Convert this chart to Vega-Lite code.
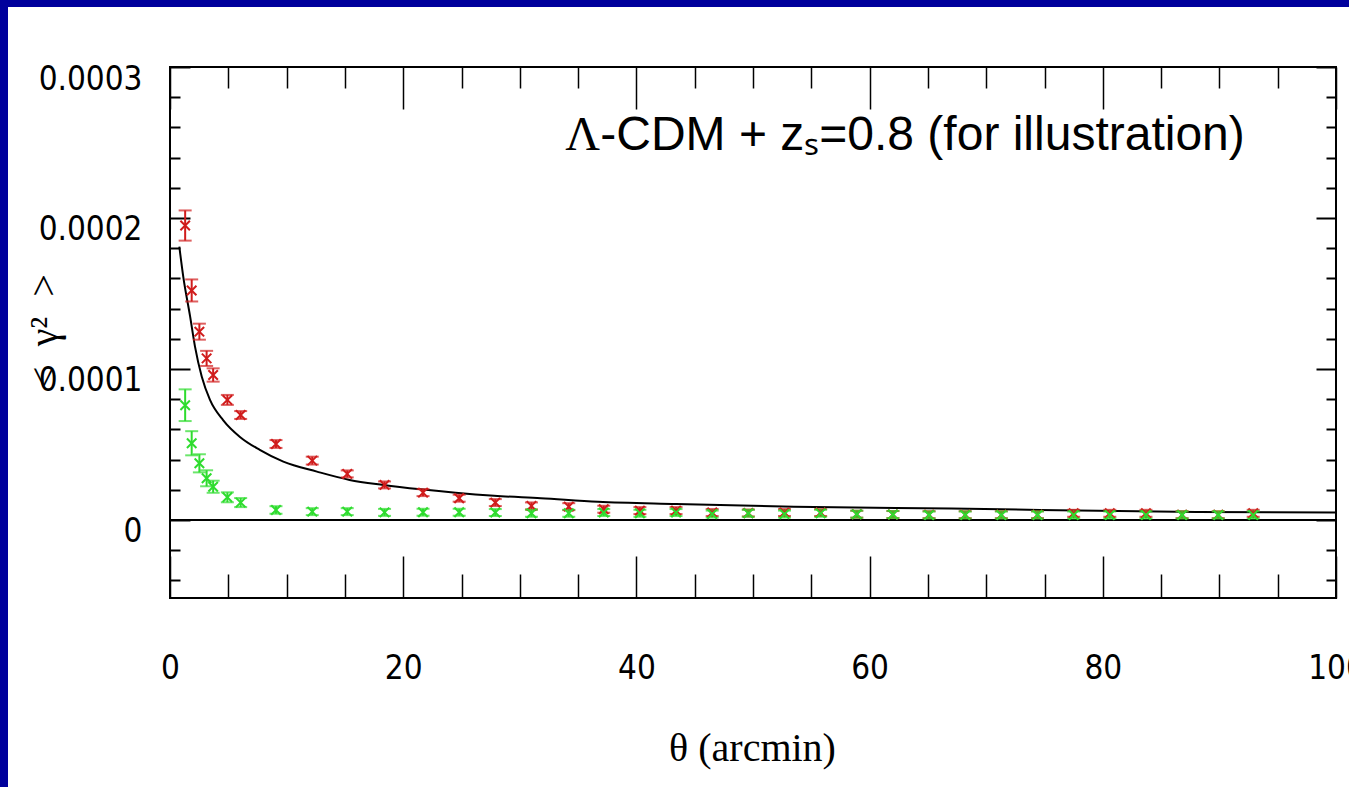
{
  "$schema": "https://vega.github.io/schema/vega-lite/v6.json",
  "width": 1341,
  "height": 780,
  "autosize": {"type": "none"},
  "padding": {"left": 8, "top": 7, "right": 0, "bottom": 0},
  "background": "#00009c",
  "config": {"view": {"fill": "white", "stroke": null}, "axis": {"grid": false}},
  "datasets": {
    "points": [
      {"series": "red", "theta": 1.3, "value": 1.95e-4, "lo": 1.85e-4, "hi": 2.05e-4},
      {"series": "red", "theta": 1.86, "value": 1.52e-4, "lo": 1.447e-4, "hi": 1.593e-4},
      {"series": "red", "theta": 2.52, "value": 1.247e-4, "lo": 1.194e-4, "hi": 1.3e-4},
      {"series": "red", "theta": 3.14, "value": 1.07e-4, "lo": 1.02e-4, "hi": 1.12e-4},
      {"series": "red", "theta": 3.7, "value": 9.6e-5, "lo": 9.16e-5, "hi": 1.004e-4},
      {"series": "red", "theta": 4.92, "value": 7.95e-5, "lo": 7.62e-5, "hi": 8.28e-5},
      {"series": "red", "theta": 6.06, "value": 6.95e-5, "lo": 6.69e-5, "hi": 7.21e-5},
      {"series": "red", "theta": 9.09, "value": 5.03e-5, "lo": 4.77e-5, "hi": 5.29e-5},
      {"series": "red", "theta": 12.2, "value": 3.93e-5, "lo": 3.67e-5, "hi": 4.19e-5},
      {"series": "red", "theta": 15.2, "value": 3.05e-5, "lo": 2.82e-5, "hi": 3.28e-5},
      {"series": "red", "theta": 18.4, "value": 2.32e-5, "lo": 2.09e-5, "hi": 2.55e-5},
      {"series": "red", "theta": 21.7, "value": 1.81e-5, "lo": 1.58e-5, "hi": 2.04e-5},
      {"series": "red", "theta": 24.8, "value": 1.44e-5, "lo": 1.21e-5, "hi": 1.67e-5},
      {"series": "red", "theta": 27.9, "value": 1.15e-5, "lo": 9.2e-6, "hi": 1.38e-5},
      {"series": "red", "theta": 31.0, "value": 9.3e-6, "lo": 7.0e-6, "hi": 1.16e-5},
      {"series": "red", "theta": 34.2, "value": 8.8e-6, "lo": 6.5e-6, "hi": 1.11e-5},
      {"series": "red", "theta": 37.2, "value": 7.1e-6, "lo": 4.8e-6, "hi": 9.4e-6},
      {"series": "red", "theta": 40.3, "value": 6.2e-6, "lo": 3.9e-6, "hi": 8.5e-6},
      {"series": "red", "theta": 43.4, "value": 6.2e-6, "lo": 3.9e-6, "hi": 8.5e-6},
      {"series": "red", "theta": 46.5, "value": 4.9e-6, "lo": 2.6e-6, "hi": 7.2e-6},
      {"series": "red", "theta": 49.6, "value": 4.6e-6, "lo": 2.3e-6, "hi": 6.9e-6},
      {"series": "red", "theta": 52.7, "value": 4.9e-6, "lo": 2.6e-6, "hi": 7.2e-6},
      {"series": "red", "theta": 55.8, "value": 4.9e-6, "lo": 2.6e-6, "hi": 7.2e-6},
      {"series": "red", "theta": 58.9, "value": 3.8e-6, "lo": 1.5e-6, "hi": 6.1e-6},
      {"series": "red", "theta": 62.0, "value": 3.6e-6, "lo": 1.3e-6, "hi": 5.9e-6},
      {"series": "red", "theta": 65.1, "value": 3.5e-6, "lo": 1.2e-6, "hi": 5.8e-6},
      {"series": "red", "theta": 68.2, "value": 3.5e-6, "lo": 1.2e-6, "hi": 5.8e-6},
      {"series": "red", "theta": 71.3, "value": 3.5e-6, "lo": 1.2e-6, "hi": 5.8e-6},
      {"series": "red", "theta": 74.4, "value": 3.5e-6, "lo": 1.2e-6, "hi": 5.8e-6},
      {"series": "red", "theta": 77.5, "value": 4.4e-6, "lo": 2.1e-6, "hi": 6.7e-6},
      {"series": "red", "theta": 80.6, "value": 4.4e-6, "lo": 2.1e-6, "hi": 6.7e-6},
      {"series": "red", "theta": 83.7, "value": 4.4e-6, "lo": 2.1e-6, "hi": 6.7e-6},
      {"series": "red", "theta": 86.8, "value": 3.5e-6, "lo": 1.2e-6, "hi": 5.8e-6},
      {"series": "red", "theta": 89.9, "value": 3.5e-6, "lo": 1.2e-6, "hi": 5.8e-6},
      {"series": "red", "theta": 92.9, "value": 4.4e-6, "lo": 2.1e-6, "hi": 6.7e-6},
      {"series": "green", "theta": 1.3, "value": 7.6e-5, "lo": 6.55e-5, "hi": 8.65e-5},
      {"series": "green", "theta": 1.86, "value": 5.08e-5, "lo": 4.28e-5, "hi": 5.88e-5},
      {"series": "green", "theta": 2.52, "value": 3.75e-5, "lo": 3.15e-5, "hi": 4.35e-5},
      {"series": "green", "theta": 3.14, "value": 2.76e-5, "lo": 2.23e-5, "hi": 3.29e-5},
      {"series": "green", "theta": 3.7, "value": 2.2e-5, "lo": 1.8e-5, "hi": 2.6e-5},
      {"series": "green", "theta": 4.92, "value": 1.5e-5, "lo": 1.17e-5, "hi": 1.83e-5},
      {"series": "green", "theta": 6.06, "value": 1.15e-5, "lo": 8.5e-6, "hi": 1.45e-5},
      {"series": "green", "theta": 9.09, "value": 6.6e-6, "lo": 4.1e-6, "hi": 9.1e-6},
      {"series": "green", "theta": 12.2, "value": 5.5e-6, "lo": 3.2e-6, "hi": 7.8e-6},
      {"series": "green", "theta": 15.2, "value": 5.5e-6, "lo": 3.2e-6, "hi": 7.8e-6},
      {"series": "green", "theta": 18.4, "value": 5.0e-6, "lo": 2.7e-6, "hi": 7.3e-6},
      {"series": "green", "theta": 21.7, "value": 5.1e-6, "lo": 2.8e-6, "hi": 7.4e-6},
      {"series": "green", "theta": 24.8, "value": 5.1e-6, "lo": 2.8e-6, "hi": 7.4e-6},
      {"series": "green", "theta": 27.9, "value": 4.9e-6, "lo": 2.6e-6, "hi": 7.2e-6},
      {"series": "green", "theta": 31.0, "value": 4.4e-6, "lo": 2.1e-6, "hi": 6.7e-6},
      {"series": "green", "theta": 34.2, "value": 4.4e-6, "lo": 2.1e-6, "hi": 6.7e-6},
      {"series": "green", "theta": 37.2, "value": 4.9e-6, "lo": 2.6e-6, "hi": 7.2e-6},
      {"series": "green", "theta": 40.3, "value": 4.4e-6, "lo": 2.1e-6, "hi": 6.7e-6},
      {"series": "green", "theta": 43.4, "value": 4.9e-6, "lo": 2.6e-6, "hi": 7.2e-6},
      {"series": "green", "theta": 46.5, "value": 3.9e-6, "lo": 1.6e-6, "hi": 6.2e-6},
      {"series": "green", "theta": 49.6, "value": 4.4e-6, "lo": 2.1e-6, "hi": 6.7e-6},
      {"series": "green", "theta": 52.7, "value": 3.9e-6, "lo": 1.6e-6, "hi": 6.2e-6},
      {"series": "green", "theta": 55.8, "value": 4.4e-6, "lo": 2.1e-6, "hi": 6.7e-6},
      {"series": "green", "theta": 58.9, "value": 3.8e-6, "lo": 1.5e-6, "hi": 6.1e-6},
      {"series": "green", "theta": 62.0, "value": 3.6e-6, "lo": 1.3e-6, "hi": 5.9e-6},
      {"series": "green", "theta": 65.1, "value": 3.3e-6, "lo": 1.0e-6, "hi": 5.6e-6},
      {"series": "green", "theta": 68.2, "value": 3.3e-6, "lo": 1.0e-6, "hi": 5.6e-6},
      {"series": "green", "theta": 71.3, "value": 3.3e-6, "lo": 1.0e-6, "hi": 5.6e-6},
      {"series": "green", "theta": 74.4, "value": 3.3e-6, "lo": 1.0e-6, "hi": 5.6e-6},
      {"series": "green", "theta": 77.5, "value": 3.3e-6, "lo": 1.0e-6, "hi": 5.6e-6},
      {"series": "green", "theta": 80.6, "value": 3.3e-6, "lo": 1.0e-6, "hi": 5.6e-6},
      {"series": "green", "theta": 83.7, "value": 3.3e-6, "lo": 1.0e-6, "hi": 5.6e-6},
      {"series": "green", "theta": 86.8, "value": 3.3e-6, "lo": 1.0e-6, "hi": 5.6e-6},
      {"series": "green", "theta": 89.9, "value": 3.3e-6, "lo": 1.0e-6, "hi": 5.6e-6},
      {"series": "green", "theta": 92.9, "value": 3.3e-6, "lo": 1.0e-6, "hi": 5.6e-6}
    ],
    "theory": [
      {"theta": 0.8, "value": 1.81e-4},
      {"theta": 1.14, "value": 1.61e-4},
      {"theta": 1.72, "value": 1.35e-4},
      {"theta": 2.14, "value": 1.15e-4},
      {"theta": 2.72, "value": 9.5e-5},
      {"theta": 3.43, "value": 7.95e-5},
      {"theta": 4.57, "value": 6.6e-5},
      {"theta": 6.0, "value": 5.5e-5},
      {"theta": 7.7, "value": 4.64e-5},
      {"theta": 9.72, "value": 3.86e-5},
      {"theta": 12.6, "value": 3.2e-5},
      {"theta": 15.4, "value": 2.65e-5},
      {"theta": 18.3, "value": 2.32e-5},
      {"theta": 21.5, "value": 2.03e-5},
      {"theta": 24.5, "value": 1.8e-5},
      {"theta": 27.8, "value": 1.6e-5},
      {"theta": 31.8, "value": 1.44e-5},
      {"theta": 36.7, "value": 1.21e-5},
      {"theta": 43.4, "value": 1.06e-5},
      {"theta": 53.5, "value": 8.8e-6},
      {"theta": 67.0, "value": 7.5e-6},
      {"theta": 88.0, "value": 5.3e-6},
      {"theta": 100.0, "value": 5.0e-6}
    ]
  },
  "layer": [
    {
      "data": {"values": [{"frame": "plot"}]},
      "mark": {"type": "rect", "fillOpacity": 0, "stroke": "black", "strokeWidth": 2},
      "encoding": {
        "x": {
          "datum": 0, "type": "quantitative",
          "scale": {"domain": [0, 100], "range": [162, 1328], "nice": false, "zero": false},
          "axis": {
            "orient": "bottom", "offset": -189, "values": [0, 20, 40, 60, 80, 100],
            "ticks": false, "domain": false, "labelPadding": 54, "labelBaseline": "top",
            "labelFont": "DejaVu Sans Condensed, Liberation Sans, sans-serif", "labelFontSize": 33, "labelColor": "black",
            "labelFlush": false, "labelOverlap": false, "labelBound": false,
            "title": "θ (arcmin)", "titleFont": "Liberation Serif", "titleFontSize": 40,
            "titleFontWeight": "normal", "titleColor": "black", "titleX": 744, "titleY": 162,
            "titleBaseline": "alphabetic", "titleAlign": "center"
          }
        },
        "x2": {"datum": 100},
        "y": {
          "datum": -0.0000517, "type": "quantitative",
          "scale": {"domain": [-0.0000517, 0.0003], "range": [591, 60], "nice": false, "zero": false},
          "axis": {
            "orient": "left", "offset": -162, "values": [0, 0.0001, 0.0002, 0.0003], "format": "~g",
            "ticks": false, "domain": false, "labelPadding": 28, "labelAlign": "right",
            "labelBaseline": "middle", "labelOffset": 12,
            "labelFont": "DejaVu Sans Condensed, Liberation Sans, sans-serif", "labelFontSize": 33, "labelColor": "black",
            "labelOverlap": false, "labelBound": false,
            "title": "<\u2002γ²\u2002>", "titleFont": "Liberation Serif", "titleFontSize": 40,
            "titleFontWeight": "normal", "titleColor": "black", "titleX": -126, "titleY": 324,
            "titleAngle": 270, "titleBaseline": "middle", "titleAlign": "center"
          }
        },
        "y2": {"datum": 0.0003}
      }
    },
    {
      "data": {"values": [{"line": "zero"}]},
      "mark": {"type": "rule", "stroke": "black", "strokeWidth": 2},
      "encoding": {
        "x": {"datum": 0, "type": "quantitative",
          "axis": {"orient": "bottom", "offset": -231, "values": [0, 20, 40, 60, 80, 100], "tickSize": 42, "tickWidth": 1.5, "tickColor": "black", "labels": false, "domain": false, "title": null}},
        "x2": {"datum": 100},
        "y": {"datum": 0, "type": "quantitative",
          "axis": {"orient": "left", "offset": -182, "values": [0, 0.0001, 0.0002, 0.0003], "tickSize": 20, "tickWidth": 2, "tickColor": "black", "labels": false, "domain": false, "title": null}}
      }
    },
    {
      "data": {"name": "theory"},
      "mark": {"type": "line", "stroke": "black", "strokeWidth": 2, "interpolate": "monotone"},
      "encoding": {
        "x": {"field": "theta", "type": "quantitative",
          "axis": {"orient": "bottom", "offset": -213, "values": [5, 10, 15, 25, 30, 35, 45, 50, 55, 65, 70, 75, 85, 90, 95], "tickSize": 24, "tickWidth": 1.5, "tickColor": "black", "labels": false, "domain": false, "title": null}},
        "y": {"field": "value", "type": "quantitative",
          "axis": {"orient": "left", "offset": -172, "values": [-0.00004, -0.00002, 0.00002, 0.00004, 0.00006, 0.00008, 0.00012, 0.00014, 0.00016, 0.00018, 0.00022, 0.00024, 0.00026, 0.00028], "tickSize": 10, "tickWidth": 2, "tickColor": "black", "labels": false, "domain": false, "title": null}}
      }
    },
    {
      "data": {"name": "points"},
      "mark": {"type": "rule", "strokeWidth": 2},
      "encoding": {
        "x": {"field": "theta", "type": "quantitative",
          "axis": {"orient": "top", "offset": -102, "values": [0, 20, 40, 60, 80, 100], "tickSize": 42, "tickWidth": 1.5, "tickColor": "black", "labels": false, "domain": false, "title": null}},
        "y": {"field": "lo", "type": "quantitative",
          "axis": {"orient": "right", "offset": -33, "values": [0, 0.0001, 0.0002, 0.0003], "tickSize": 20, "tickWidth": 2, "tickColor": "black", "labels": false, "domain": false, "title": null}},
        "y2": {"field": "hi"},
        "color": {"field": "series", "type": "nominal", "scale": {"domain": ["red", "green"], "range": ["#d01c1c", "#2edc2e"]}, "legend": null}
      }
    },
    {
      "data": {"name": "points"},
      "mark": {"type": "tick", "orient": "horizontal", "size": 13, "thickness": 2},
      "encoding": {
        "x": {"field": "theta", "type": "quantitative",
          "axis": {"orient": "top", "offset": -81, "values": [5, 10, 15, 25, 30, 35, 45, 50, 55, 65, 70, 75, 85, 90, 95], "tickSize": 21, "tickWidth": 1.5, "tickColor": "black", "labels": false, "domain": false, "title": null}},
        "y": {"field": "lo", "type": "quantitative",
          "axis": {"orient": "right", "offset": -23, "values": [-0.00004, -0.00002, 0.00002, 0.00004, 0.00006, 0.00008, 0.00012, 0.00014, 0.00016, 0.00018, 0.00022, 0.00024, 0.00026, 0.00028], "tickSize": 10, "tickWidth": 2, "tickColor": "black", "labels": false, "domain": false, "title": null}},
        "color": {"field": "series", "type": "nominal", "legend": null}
      }
    },
    {
      "data": {"name": "points"},
      "mark": {"type": "tick", "orient": "horizontal", "size": 13, "thickness": 2},
      "encoding": {
        "x": {"field": "theta", "type": "quantitative", "axis": null},
        "y": {"field": "hi", "type": "quantitative", "axis": null},
        "color": {"field": "series", "type": "nominal", "legend": null}
      }
    },
    {
      "data": {"name": "points"},
      "mark": {"type": "point", "shape": "M-1,-1L1,1M-1,1L1,-1", "filled": false, "size": 90, "strokeWidth": 2, "opacity": 1},
      "encoding": {
        "x": {"field": "theta", "type": "quantitative", "axis": null},
        "y": {"field": "value", "type": "quantitative", "axis": null},
        "color": {"field": "series", "type": "nominal", "legend": null}
      }
    },
    {
      "data": {"values": [{"label": "Λ"}]},
      "mark": {"type": "text", "font": "Liberation Serif", "fontSize": 48, "align": "left", "baseline": "alphabetic", "color": "black"},
      "encoding": {
        "x": {"datum": 33.9, "type": "quantitative", "axis": null},
        "y": {"datum": 0.000245, "type": "quantitative", "axis": null},
        "text": {"field": "label"}
      }
    },
    {
      "data": {"values": [{"label": "-CDM + zₛ=0.8 (for illustration)"}]},
      "mark": {"type": "text", "font": "Liberation Sans", "fontSize": 48, "align": "left", "baseline": "alphabetic", "color": "black", "dx": 35},
      "encoding": {
        "x": {"datum": 33.9, "type": "quantitative", "axis": null},
        "y": {"datum": 0.000245, "type": "quantitative", "axis": null},
        "text": {"field": "label"}
      }
    }
  ],
  "resolve": {"axis": {"x": "independent", "y": "independent"}}
}
